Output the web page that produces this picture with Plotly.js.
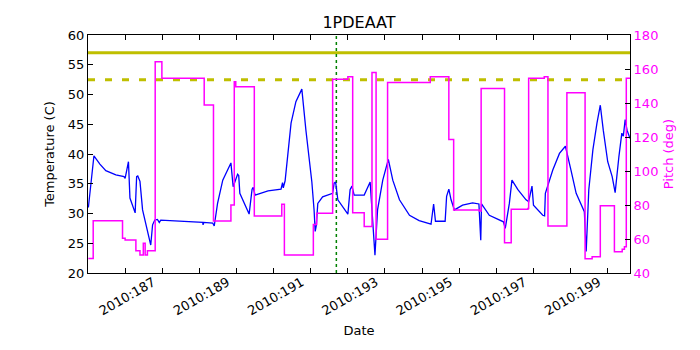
<!DOCTYPE html>
<html>
<head>
<meta charset="utf-8">
<script src="https://cdn.plot.ly/plotly-3.0.1.min.js"></script>
<style>
  html, body { margin: 0; padding: 0; background: #fff; }
  #chart { width: 700px; height: 350px; }
</style>
</head>
<body>
<div id="chart"></div>
<script>
// day of year 2010 (fractional) for the temperature trace
const tempDays = [
  185.01, 185.16, 185.32, 185.48, 185.75, 185.97, 186.00, 186.09, 186.13, 186.27,
  186.31, 186.34, 186.40, 186.47, 186.69, 186.74, 186.80, 186.87, 186.92, 186.96,
  188.09, 188.10, 188.12, 188.36, 188.40, 188.49, 188.63, 188.85, 188.91, 189.03,
  189.06, 189.09, 189.34, 189.42, 189.45, 189.50, 189.85, 190.20, 190.24, 190.26,
  190.31, 190.47, 190.60, 190.76, 190.87, 191.03, 191.09, 191.12, 191.15, 191.19,
  191.32, 191.59, 191.63, 191.67, 191.73, 192.00, 192.06, 192.11, 192.17, 192.44,
  192.60, 192.68, 192.73, 192.80, 192.94, 193.09, 193.21, 193.39, 193.66, 193.92,
  194.19, 194.24, 194.31, 194.36, 194.62, 194.66, 194.72, 194.78, 194.87, 195.09,
  195.36, 195.53, 195.58, 195.60, 195.81, 196.19, 196.24, 196.35, 196.42, 196.58,
  196.80, 196.87, 196.96, 197.00, 197.25, 197.30, 197.32, 197.52, 197.70, 197.86,
  198.01, 198.15, 198.37, 198.42, 198.49, 198.60, 198.71, 198.80, 198.88, 199.00,
  199.12, 199.20, 199.30, 199.38, 199.42, 199.47, 199.52, 199.60
];
const tempValues = [
  31.0, 39.7, 38.3, 37.2, 36.5, 36.2, 35.9, 38.7, 32.6, 30.1,
  36.2, 36.3, 35.4, 30.6, 24.7, 28.1, 28.9, 29.0, 28.5, 28.9,
  28.5, 28.1, 28.5, 28.4, 27.9, 31.7, 35.6, 38.5, 34.5, 36.6,
  36.4, 33.4, 29.9, 34.1, 34.4, 33.1, 33.8, 34.1, 35.2, 34.3,
  35.5, 45.2, 48.8, 50.9, 44.0, 35.3, 30.6, 27.0, 28.0, 31.7,
  32.8, 33.4, 35.1, 35.3, 32.3, 29.9, 34.0, 34.6, 33.1, 33.1,
  35.3, 27.2, 23.0, 30.6, 35.6, 39.1, 35.6, 32.3, 29.7, 28.8,
  28.4, 28.2, 31.6, 28.7, 28.7, 32.9, 34.1, 32.3, 30.6, 31.4,
  31.8, 31.6, 25.5, 31.6, 29.7, 28.6, 27.5, 31.7, 35.6, 34.0,
  32.3, 32.0, 34.6, 31.4, 29.7, 29.6, 33.4, 37.3, 40.1, 41.3,
  37.3, 33.4, 30.3, 23.6, 34.0, 40.7, 45.2, 48.2, 44.0, 38.7,
  36.2, 33.5, 39.5, 43.5, 43.0, 45.8, 44.0, 42.6
];

// pitch is held between samples (step changes)
const pitchDays = [
  185.01, 185.14, 185.93, 186.00, 186.29, 186.40, 186.49, 186.54, 186.60, 186.81,
  186.99, 188.13, 188.38, 188.85, 188.94, 188.98, 189.48, 190.22, 190.29, 191.07,
  191.16, 191.59, 192.00, 192.13, 192.44, 192.65, 192.76, 193.07, 194.22, 194.72,
  194.85, 195.54, 195.59, 196.22, 196.40, 196.85, 196.87, 197.29, 197.39, 197.90,
  198.39, 198.58, 198.80, 199.18, 199.39, 199.45, 199.50, 199.60
];
const pitchValues = [
  48.6, 70.8, 60.4, 59.4, 53.1, 50.6, 57.5, 50.6, 53.1, 164.3,
  154.5, 138.8, 70.6, 80.0, 152.5, 149.6, 73.5, 80.4, 50.6, 68.6,
  75.1, 153.9, 155.5, 75.5, 67.3, 158.0, 59.8, 152.0, 155.5, 118.6,
  77.1, 76.5, 148.6, 57.8, 77.5, 78.0, 154.5, 155.5, 67.6, 146.1,
  48.4, 49.6, 79.6, 52.5, 54.0, 55.4, 154.5, 154.5
];

const dayRange = [185.0, 199.6];
const planningLimit = 57;
const cautionLimit = 52.5;
const markerDay = 191.69;

const tickDays = [186, 187, 188, 189, 190, 191, 192, 193, 194, 195, 196, 197, 198, 199];
const tickLabels = ["", "2010:187", "", "2010:189", "", "2010:191", "", "2010:193",
                    "", "2010:195", "", "2010:197", "", "2010:199"];

const font = "DejaVu Sans, Arial, sans-serif";

const traces = [
  {
    x: dayRange, y: [planningLimit, planningLimit],
    mode: "lines", line: { color: "#bfbf00", width: 3 },
    hoverinfo: "skip"
  },
  {
    x: dayRange, y: [cautionLimit, cautionLimit],
    mode: "lines", line: { color: "#bfbf00", width: 3, dash: "7px,10px" },
    hoverinfo: "skip"
  },
  {
    x: [markerDay, markerDay], y: [20, 60],
    mode: "lines", line: { color: "#008000", width: 1.5, dash: "dot" },
    hoverinfo: "skip"
  },
  {
    x: tempDays, y: tempValues,
    mode: "lines", name: "1PDEAAT",
    line: { color: "#0000ff", width: 1.3 }
  },
  {
    x: pitchDays, y: pitchValues, yaxis: "y2",
    mode: "lines", name: "Pitch",
    line: { color: "#ff00ff", width: 1.5, shape: "hv" }
  }
];

const layout = {
  width: 700, height: 350,
  margin: { l: 88, r: 70, t: 35, b: 77 },
  paper_bgcolor: "#fff", plot_bgcolor: "#fff",
  showlegend: false,
  font: { family: font, size: 13, color: "#000" },
  title: {
    text: "1PDEAAT", font: { family: font, size: 16, color: "#000" },
    x: 0.5, xref: "paper", y: 0.937, yref: "container", yanchor: "middle"
  },
  xaxis: {
    range: dayRange,
    tickvals: tickDays, ticktext: tickLabels, tickangle: -30,
    ticklabelshift: -9, ticklabelstandoff: -4,
    ticks: "inside", ticklen: 5, tickcolor: "#000",
    showline: true, linecolor: "#000", linewidth: 1, mirror: "ticks",
    showgrid: false, zeroline: false,
    title: { text: "Date", font: { family: font, size: 13 }, standoff: 8 }
  },
  yaxis: {
    range: [20, 60], dtick: 5,
    ticks: "inside", ticklen: 5, tickcolor: "#000",
    showline: true, linecolor: "#000", linewidth: 1,
    showgrid: false, zeroline: false,
    title: { text: "Temperature (C)", font: { family: font, size: 13 }, standoff: 10 }
  },
  yaxis2: {
    overlaying: "y", side: "right",
    range: [40, 180], dtick: 20,
    ticks: "inside", ticklen: 5, tickcolor: "#000",
    tickfont: { color: "#ff00ff", size: 13 },
    showline: true, linecolor: "#000", linewidth: 1,
    showgrid: false, zeroline: false,
    title: { text: "Pitch (deg)", font: { family: font, size: 13, color: "#ff00ff" }, standoff: 6 }
  }
};

Plotly.newPlot("chart", traces, layout, { displayModeBar: false, staticPlot: true });
</script>
</body>
</html>
